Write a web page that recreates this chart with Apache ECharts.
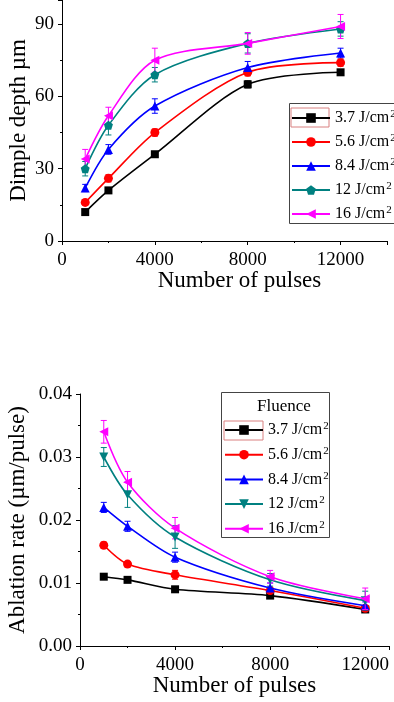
<!DOCTYPE html>
<html>
<head>
<meta charset="utf-8">
<script src="https://cdn.jsdelivr.net/npm/echarts@6/dist/echarts.min.js"></script>
<style>
  html, body { margin: 0; padding: 0; background: #fff; }
  #chart { width: 394px; height: 702px; }
</style>
</head>
<body>
<div id="chart"></div>
<script>
// x values shared by both panels
const pulses = [1000, 2000, 4000, 8000, 12000];
const fluenceLabels = ["3.7 J/cm", "5.6 J/cm", "8.4 J/cm", "12 J/cm", "16 J/cm"];
const colors = ["#000000", "#ff0000", "#0000ff", "#008080", "#ff00ff"];

// top panel: dimple depth (µm)
const depth37 = [12, 21, 36, 65, 70];
const depth56 = [16, 26, 45, 70, 74];
const depth84 = [22, 38, 56, 72, 78];
const depth12 = [30, 48, 69, 82, 88];
const depth16 = [34, 52, 75, 82, 89];
const depthErr37 = [1, 1, 1, 1.5, 1];
const depthErr56 = [1, 1.5, 1.5, 1.5, 1.5];
const depthErr84 = [1.5, 2, 3, 2.5, 2];
const depthErr12 = [3, 4, 3, 4, 3];
const depthErr16 = [4, 3.5, 5, 4.5, 5];

// bottom panel: ablation rate (µm/pulse)
const rate37 = [0.011, 0.0105, 0.009, 0.008, 0.0058];
const rate56 = [0.016, 0.013, 0.0113, 0.0088, 0.006];
const rate84 = [0.022, 0.019, 0.0141, 0.0092, 0.0064];
const rate12 = [0.030, 0.024, 0.0173, 0.0105, 0.0072];
const rate16 = [0.034, 0.026, 0.0187, 0.011, 0.0075];
const rateErr37 = [0.0003, 0.0003, 0.0003, 0.0003, 0.0003];
const rateErr56 = [0.0005, 0.0004, 0.0007, 0.0004, 0.0003];
const rateErr84 = [0.0008, 0.0008, 0.0008, 0.0008, 0.0006];
const rateErr12 = [0.0015, 0.002, 0.0018, 0.001, 0.0015];
const rateErr16 = [0.0018, 0.0017, 0.0017, 0.001, 0.0017];

const pulseTicks = [0, 4000, 8000, 12000];
const depthTicks = [0, 30, 60, 90];
const rateTicks = ["0.00", "0.01", "0.02", "0.03", "0.04"];

const depthSets = [depth37, depth56, depth84, depth12, depth16];
const depthErrs = [depthErr37, depthErr56, depthErr84, depthErr12, depthErr16];
const rateSets = [rate37, rate56, rate84, rate12, rate16];
const rateErrs = [rateErr37, rateErr56, rateErr84, rateErr12, rateErr16];

const pentagon = "path://M0,-10 L9.5,-3.1 L5.9,8.1 L-5.9,8.1 L-9.5,-3.1 Z";
const topSymbols = [["rect", 0], ["circle", 0], ["triangle", 0], [pentagon, 0], ["triangle", 90]];
const botSymbols = [["rect", 0], ["circle", 0], ["triangle", 0], ["triangle", 180], ["triangle", 90]];

const FONT = "Liberation Serif";
const topNames = fluenceLabels.map((l) => "depth " + l);
const botNames = fluenceLabels.map((l) => "rate " + l);
const labelFor = {};
fluenceLabels.forEach((l, i) => {
  labelFor[topNames[i]] = "{t|" + l + "}{s|2}";
  labelFor[botNames[i]] = "{t|" + l + "}{s|2}";
});

function errorBar(params, api) {
  const x = api.value(0), y = api.value(1), e = api.value(2);
  const hi = api.coord([x, y + e]);
  const lo = api.coord([x, y - e]);
  const style = { stroke: api.visual("color"), lineWidth: 1 };
  return {
    type: "group",
    children: [
      { type: "line", shape: { x1: hi[0], y1: hi[1], x2: lo[0], y2: lo[1] }, style },
      { type: "line", shape: { x1: hi[0] - 3, y1: hi[1], x2: hi[0] + 3, y2: hi[1] }, style },
      { type: "line", shape: { x1: lo[0] - 3, y1: lo[1], x2: lo[0] + 3, y2: lo[1] }, style },
    ],
  };
}

function lineSeries(name, values, i, symbols, axisIdx) {
  return {
    name,
    type: "line",
    xAxisIndex: axisIdx,
    yAxisIndex: axisIdx,
    data: pulses.map((p, k) => [p, values[k]]),
    smooth: 0.3,
    symbol: symbols[i][0],
    symbolRotate: symbols[i][1],
    symbolSize: i === 0 ? 8 : 9,
    z: 3 + i,
    lineStyle: { color: colors[i], width: 1.6 },
    itemStyle: { color: colors[i] },
  };
}

function errSeries(values, errs, i, axisIdx) {
  return {
    type: "custom",
    xAxisIndex: axisIdx,
    yAxisIndex: axisIdx,
    renderItem: errorBar,
    itemStyle: { color: colors[i] },
    encode: { x: 0, y: 1 },
    data: pulses.map((p, k) => [p, values[k], errs[k]]),
    z: 2 + i,
  };
}

const series = [];
for (let i = 0; i < 5; i++) {
  series.push(errSeries(depthSets[i], depthErrs[i], i, 0));
  series.push(lineSeries(topNames[i], depthSets[i], i, topSymbols, 0));
  series.push(errSeries(rateSets[i], rateErrs[i], i, 1));
  series.push(lineSeries(botNames[i], rateSets[i], i, botSymbols, 1));
}

const axisLine = { show: true, lineStyle: { color: "#000", width: 1 } };
const axisTick = { show: true, inside: false, length: 4, lineStyle: { color: "#000" } };
const minorTick = { show: true, splitNumber: 2, length: 2, lineStyle: { color: "#000" } };
const labelStyle = { color: "#000", fontFamily: FONT, fontSize: 19 };
const nameStyle = { color: "#000", fontFamily: FONT, fontSize: 23 };

function xAxis(gridIndex, max, extraPad) {
  return {
    type: "value",
    gridIndex,
    min: 0,
    max,
    interval: 4000,
    name: "Number of pulses",
    nameLocation: "middle",
    nameGap: 28,
    nameMoveOverlap: false,
    nameTextStyle: Object.assign({ padding: [0, 0, 0, extraPad] }, nameStyle),
    axisLine,
    axisTick,
    minorTick,
    splitLine: { show: false },
    axisLabel: Object.assign({
      margin: 10,
      showMaxLabel: false,
      formatter: (v) => (pulseTicks.includes(v) ? String(v) : ""),
    }, labelStyle),
  };
}

// the frames are drawn as graphic rects, the legends only place the entries
const legendCommon = {
  orient: "vertical",
  itemWidth: 38,
  itemHeight: 12,
  itemGap: 6,
  padding: 0,
  borderWidth: 0,
  textStyle: {
    color: "#000",
    fontFamily: FONT,
    fontSize: 16,
    lineHeight: 18,
    rich: {
      t: { fontFamily: FONT, fontSize: 16, lineHeight: 18, color: "#000" },
      s: { fontFamily: FONT, fontSize: 11, lineHeight: 11, color: "#000", verticalAlign: "top", padding: [0, 0, 0, 1] },
    },
  },
  formatter: (name) => labelFor[name],
  selectedMode: false,
};

const chart = echarts.init(document.getElementById("chart"), null, { renderer: "canvas" });
chart.setOption({
  animation: false,
  backgroundColor: "#fff",
  grid: [
    { left: 62, right: 7, top: 0, bottom: 461, outerBoundsMode: "none" },
    { left: 80, right: 5, top: 394, bottom: 56, outerBoundsMode: "none" },
  ],
  xAxis: [xAxis(0, 14000, 30), xAxis(1, 13000, 0)],
  yAxis: [
    {
      type: "value",
      gridIndex: 0,
      min: 0,
      max: 100,
      interval: 30,
      name: "Dimple depth µm",
      nameLocation: "middle",
      nameGap: 32,
      nameMoveOverlap: false,
      nameTextStyle: nameStyle,
      axisLine,
      axisTick,
      minorTick,
      splitLine: { show: false },
      axisLabel: Object.assign({
        margin: 8,
        showMaxLabel: false,
        formatter: (v) => (depthTicks.includes(v) ? String(v) : ""),
      }, labelStyle),
    },
    {
      type: "value",
      gridIndex: 1,
      min: 0,
      max: 0.04,
      interval: 0.01,
      name: "Ablation rate (µm/pulse)",
      nameLocation: "middle",
      nameGap: 51,
      nameMoveOverlap: false,
      nameTextStyle: nameStyle,
      axisLine,
      axisTick,
      minorTick,
      splitLine: { show: false },
      axisLabel: Object.assign({
        margin: 8,
        formatter: (v) => rateTicks[Math.round(v * 100)],
      }, labelStyle),
    },
  ],
  legend: [
    Object.assign({}, legendCommon, { data: topNames, left: 291, top: 109 }),
    Object.assign({}, legendCommon, { data: botNames, left: 224, top: 421, itemGap: 6.7 }),
  ],
  graphic: [
    {
      type: "rect",
      shape: { x: 289.5, y: 103.5, width: 130, height: 120 },
      style: { fill: "none", stroke: "#444", lineWidth: 1 },
    },
    {
      type: "rect",
      shape: { x: 221.5, y: 392.5, width: 108, height: 145 },
      style: { fill: "none", stroke: "#444", lineWidth: 1 },
    },
    {
      type: "text",
      left: 257,
      top: 398,
      style: { text: "Fluence", fill: "#000", font: "17px " + FONT },
    },
    {
      type: "rect",
      shape: { x: 291, y: 108, width: 38, height: 19 },
      style: { fill: "none", stroke: "#d98080", lineWidth: 1 },
    },
    {
      type: "rect",
      shape: { x: 224, y: 421, width: 39, height: 19 },
      style: { fill: "none", stroke: "#d98080", lineWidth: 1 },
    },
  ],
  series,
});
</script>
</body>
</html>
